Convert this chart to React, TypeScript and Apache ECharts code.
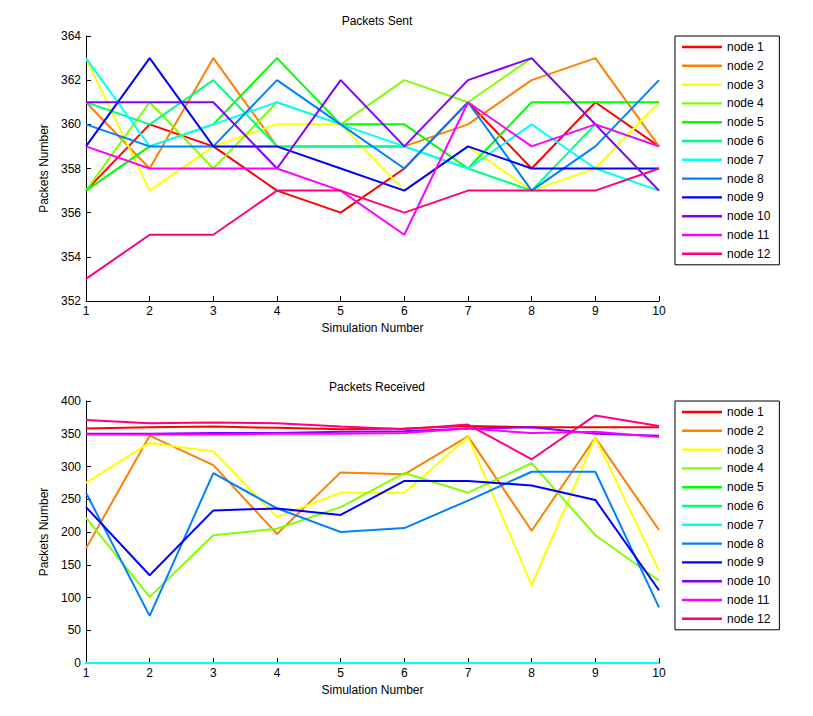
import React, { useEffect, useRef } from "react";
import * as echarts from "echarts";

const simulations = [1, 2, 3, 4, 5, 6, 7, 8, 9, 10];
const nodeNames = ["node 1", "node 2", "node 3", "node 4", "node 5", "node 6", "node 7", "node 8", "node 9", "node 10", "node 11", "node 12"];
const nodeColors = ["#FF0000", "#FF8000", "#FFFF00", "#80FF00", "#00FF00", "#00FF80", "#00FFFF", "#0080FF", "#0000FF", "#8000FF", "#FF00FF", "#FF0080"];

const sentNode1 = [357, 360, 359, 357, 356, 358, 361, 358, 361, 359];
const sentNode2 = [361, 358, 363, 359, 359, 359, 360, 362, 363, 359];
const sentNode3 = [363, 357, 359, 360, 360, 357, 359, 357, 358, 361];
const sentNode4 = [357, 361, 358, 361, 360, 362, 361, 363, 360, 357];
const sentNode5 = [357, 359, 360, 363, 360, 360, 358, 361, 361, 361];
const sentNode6 = [361, 360, 362, 359, 359, 359, 358, 357, 360, 359];
const sentNode7 = [363, 359, 360, 361, 360, 359, 358, 360, 358, 357];
const sentNode8 = [360, 359, 359, 362, 360, 358, 361, 357, 359, 362];
const sentNode9 = [359, 363, 359, 359, 358, 357, 359, 358, 358, 358];
const sentNode10 = [361, 361, 361, 358, 362, 359, 362, 363, 360, 357];
const sentNode11 = [359, 358, 358, 358, 357, 355, 361, 359, 360, 359];
const sentNode12 = [353, 355, 355, 357, 357, 356, 357, 357, 357, 358];

const recvNode1 = [358, 360, 361, 359, 357, 358, 362, 360, 360, 360];
const recvNode2 = [175, 347, 302, 197, 291, 288, 346, 202, 344, 203];
const recvNode3 = [275, 336, 323, 223, 260, 260, 345, 119, 344, 141];
const recvNode4 = [222, 101, 195, 205, 238, 290, 260, 305, 195, 126];
const recvNode5 = [0, 0, 0, 0, 0, 0, 0, 0, 0, 0];
const recvNode6 = [0, 0, 0, 0, 0, 0, 0, 0, 0, 0];
const recvNode7 = [0, 0, 0, 0, 0, 0, 0, 0, 0, 0];
const recvNode8 = [260, 72, 290, 236, 200, 206, 248, 292, 292, 85];
const recvNode9 = [238, 134, 233, 236, 226, 278, 278, 271, 249, 111];
const recvNode10 = [350, 350, 351, 351, 353, 354, 358, 360, 350, 347];
const recvNode11 = [349, 349, 349, 350, 350, 351, 358, 351, 353, 345];
const recvNode12 = [371, 366, 367, 366, 361, 357, 364, 311, 378, 362];

const sentData = [sentNode1, sentNode2, sentNode3, sentNode4, sentNode5, sentNode6, sentNode7, sentNode8, sentNode9, sentNode10, sentNode11, sentNode12];
const recvData = [recvNode1, recvNode2, recvNode3, recvNode4, recvNode5, recvNode6, recvNode7, recvNode8, recvNode9, recvNode10, recvNode11, recvNode12];

const FONT = "'Liberation Sans', Arial, Helvetica, sans-serif";

export default function App() {
  const ref = useRef<HTMLDivElement>(null);
  useEffect(() => {
    if (!ref.current) return;
    const chart = echarts.init(ref.current, null, { renderer: "svg" });
    const axisCommon = {
      axisLine: { show: true, onZero: false, lineStyle: { color: "#000", width: 1 } },
      axisTick: { show: true, inside: true, length: 5, lineStyle: { color: "#000" } },
      axisLabel: { color: "#000", fontSize: 12, fontFamily: FONT },
      splitLine: { show: false },
      nameTextStyle: { color: "#000", fontSize: 12, fontFamily: FONT },
    };
    const xAxis = [0, 1].map((i) => ({
      ...axisCommon,
      type: "value",
      gridIndex: i,
      min: 1,
      max: 10,
      interval: 1,
      name: "Simulation Number",
      nameLocation: "middle",
      nameGap: 21,
      axisLabel: { ...axisCommon.axisLabel, margin: 4 },
    }));
    const yAxis = [
      { ...axisCommon, type: "value", gridIndex: 0, min: 352, max: 364, interval: 2, name: "Packets Number", nameLocation: "middle", nameGap: 31, axisLabel: { ...axisCommon.axisLabel, margin: 5 } },
      { ...axisCommon, type: "value", gridIndex: 1, min: 0, max: 400, interval: 50, name: "Packets Number", nameLocation: "middle", nameGap: 31, axisLabel: { ...axisCommon.axisLabel, margin: 5 } },
    ];
    const makeSeries = (data: number[][], idx: number) =>
      data.map((vals, k) => ({
        type: "line",
        name: nodeNames[k],
        xAxisIndex: idx,
        yAxisIndex: idx,
        symbol: "none",
        color: nodeColors[k],
        lineStyle: { width: 2, color: nodeColors[k] },
        data: simulations.map((s, j) => [s, vals[j]]),
      }));
    const legendCommon = {
      orient: "vertical",
      left: 675,
      icon: "path://M0,0H40V2.4H0Z",
      itemWidth: 40,
      itemHeight: 12,
      itemGap: 6.8,
      itemTextGap: 5,
      padding: [5, 9, 5, 7],
      borderColor: "#000",
      borderWidth: 1,
      backgroundColor: "#fff",
      selectedMode: false,
      textStyle: { color: "#000", fontSize: 12, fontFamily: FONT },
      data: nodeNames,
    };
    chart.setOption({
      animation: false,
      backgroundColor: "#fff",
      title: [
        { text: "Packets Sent", left: 372, top: 10, textAlign: "center", textStyle: { fontSize: 12, fontWeight: "normal", color: "#000", fontFamily: FONT } },
        { text: "Packets Received", left: 372, top: 376, textAlign: "center", textStyle: { fontSize: 12, fontWeight: "normal", color: "#000", fontFamily: FONT } },
      ],
      grid: [
        { left: 86, top: 36, width: 573, height: 265 },
        { left: 86, top: 401, width: 573, height: 262 },
      ],
      legend: [
        { ...legendCommon, top: 36 },
        { ...legendCommon, top: 401 },
      ],
      xAxis,
      yAxis,
      series: [...makeSeries(sentData, 0), ...makeSeries(recvData, 1)],
    });
    return () => chart.dispose();
  }, []);
  return <div ref={ref} style={{ position: "absolute", left: 0, top: 0, width: 813, height: 716 }} />;
}
